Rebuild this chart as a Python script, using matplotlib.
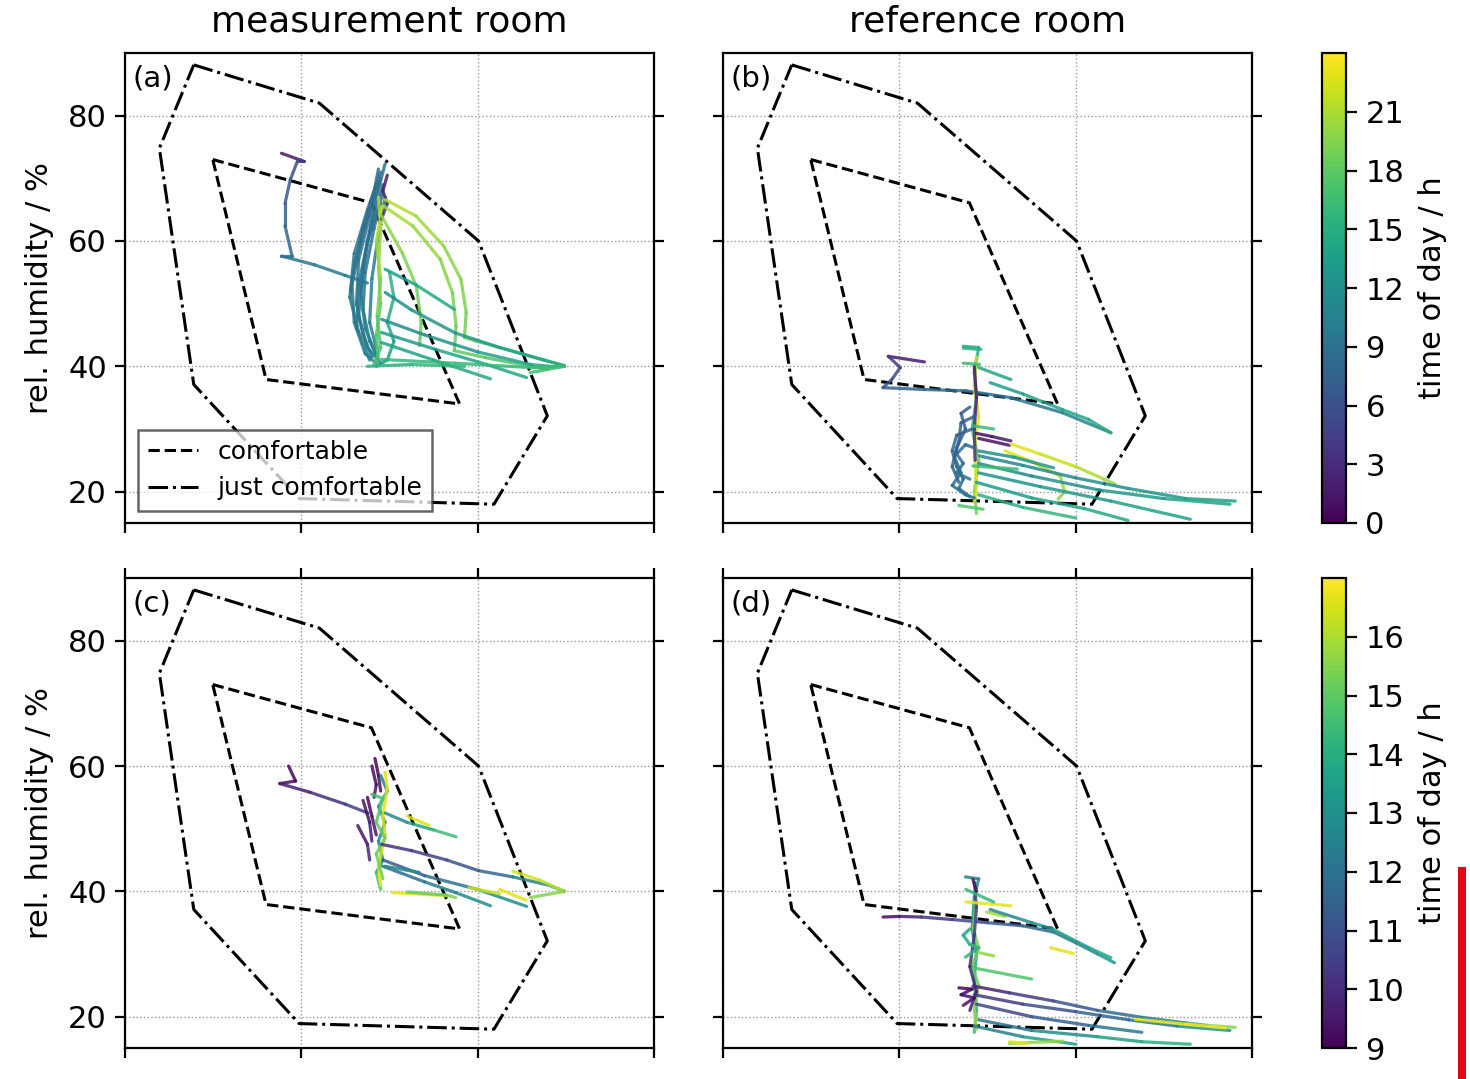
import numpy as np
import matplotlib
matplotlib.use("Agg")
import matplotlib.pyplot as plt
from matplotlib.collections import LineCollection
from matplotlib.colors import Normalize
from matplotlib.cm import ScalarMappable
from matplotlib.patches import Rectangle

plt.rcParams['font.family'] = ['DejaVu Sans']

# comfort zones (temperature / degC, rel. humidity / %)
comf_T = [17.99, 21.59, 23.59, 19.20, 17.99]
comf_RH = [73.0, 66.1, 34.0, 37.9, 73.0]
just_T = [17.56, 20.41, 24.02, 25.58, 24.37, 19.95, 17.56, 16.78, 17.56]
just_RH = [88.1, 82.0, 60.0, 32.1, 18.0, 18.9, 37.1, 74.8, 88.1]

col_titles = ['measurement room', 'reference room']
panel_labels = ['(a)', '(b)', '(c)', '(d)']
ylabel = 'rel. humidity / %'
cbar_label = 'time of day / h'
yticks = [20, 40, 60, 80]
xticks = [16, 20, 24, 28]
row_hours = [(0, 24), (9, 17)]
row_cbar_ticks = [[0, 3, 6, 9, 12, 15, 18, 21], [9, 10, 11, 12, 13, 14, 15, 16]]

# tracks: (temperature, rel. humidity, hour of day)
tracks_a = [
    [(19.55, 74.0, 1.0), (20.06, 72.7, 2.0), (19.91, 72.7, 5.0), (19.75, 69.8, 6.5), (19.63, 66.0, 7.0),
     (19.63, 62.4, 7.5), (19.79, 57.6, 8.5), (19.55, 57.6, 9.0), (20.3, 56.2, 9.5), (21.0, 54.5, 10.0),
     (21.5, 53.3, 10.3)],
    [(21.75, 71.5, 8.0), (21.6, 66.0, 8.5), (21.35, 60.0, 9.0), (21.15, 53.0, 9.5), (21.2, 47.0, 9.8),
     (21.45, 42.0, 10.2), (21.7, 40.5, 10.5)],
    [(21.8, 70.0, 8.2), (21.55, 64.0, 8.6), (21.3, 57.0, 9.2), (21.25, 50.0, 9.6), (21.4, 45.0, 10.0),
     (21.6, 41.5, 10.4)],
    [(21.85, 68.0, 8.0), (21.65, 62.0, 8.8), (21.45, 55.0, 9.3), (21.4, 49.0, 9.7), (21.55, 44.0, 10.1),
     (21.75, 41.0, 10.6)],
    [(21.9, 72.3, 9.0), (21.7, 67.0, 9.3), (21.5, 60.0, 9.6), (21.35, 52.0, 10.0), (21.45, 46.0, 10.3),
     (21.7, 42.0, 10.8)],
    [(21.8, 71.0, 8.3), (21.5, 65.0, 8.7), (21.2, 58.0, 9.1), (21.1, 51.0, 9.5), (21.3, 45.5, 9.9),
     (21.55, 41.0, 10.3)],
    [(21.85, 69.0, 8.1), (21.6, 63.0, 8.5), (21.4, 56.0, 9.0), (21.3, 48.0, 9.4), (21.5, 43.0, 9.9),
     (21.8, 40.5, 10.4)],
    [(21.9, 67.0, 9.5), (21.75, 61.0, 9.8), (21.6, 54.0, 10.1), (21.55, 47.0, 10.4), (21.7, 43.0, 10.7)],
    [(21.12, 52.0, 9.4), (21.2, 56.0, 9.0), (21.4, 62.0, 8.7), (21.7, 69.0, 8.4)],
    [(21.25, 46.0, 9.6), (21.3, 53.0, 9.2), (21.5, 60.0, 8.9), (21.8, 66.0, 8.6)],
    [(22.0, 55.0, 15.5), (22.1, 51.0, 15.0), (21.95, 47.0, 14.5), (22.1, 44.0, 14.0), (21.95, 41.0, 13.5),
     (21.7, 40.0, 13.0)],
    [(21.75, 67.0, 21.5), (21.8, 62.0, 20.5), (21.75, 56.0, 19.5), (21.8, 50.0, 18.5), (21.7, 45.0, 17.5),
     (21.75, 41.0, 17.0)],
    [(21.85, 65.5, 22.0), (21.7, 60.0, 21.0), (21.8, 54.0, 20.0), (21.72, 48.0, 18.0), (21.8, 43.0, 17.2),
     (21.65, 40.3, 16.8)],
    [(21.95, 70.5, 1.0), (21.85, 68.0, 2.0), (21.95, 66.0, 3.0), (21.82, 63.5, 4.0)],
    [(21.9, 66.6, 21.5), (22.6, 64.0, 21.0), (23.23, 59.2, 20.0), (23.62, 53.9, 19.5), (23.74, 48.6, 19.0),
     (23.7, 44.6, 18.5), (23.94, 44.1, 18.3), (25.97, 40.1, 17.0)],
    [(21.86, 65.6, 21.0), (22.53, 62.4, 20.5), (23.15, 57.1, 19.8), (23.43, 51.7, 19.2), (23.51, 46.4, 18.8),
     (23.47, 42.5, 18.3), (24.17, 41.4, 17.8), (25.58, 39.5, 17.0)],
    [(21.82, 64.0, 20.0), (22.29, 58.1, 19.5), (22.61, 52.8, 19.0), (22.72, 47.0, 18.5), (22.68, 43.3, 18.0)],
    [(21.9, 55.5, 13.0), (22.6, 53.0, 14.0), (23.47, 49.1, 15.0)],
    [(21.9, 51.8, 11.5), (22.5, 49.0, 12.0), (23.5, 45.3, 12.8), (24.5, 43.0, 13.5), (25.5, 41.0, 14.0),
     (25.97, 40.1, 14.5)],
    [(21.82, 47.5, 11.0), (22.8, 45.0, 12.0), (24.0, 42.3, 13.0), (25.2, 40.3, 14.0), (25.8, 39.9, 14.5)],
    [(21.82, 45.4, 12.5), (23.0, 42.8, 13.2), (24.2, 40.3, 14.0), (25.11, 38.2, 14.5)],
    [(21.82, 43.8, 13.5), (23.0, 41.0, 14.0), (24.29, 38.0, 14.8)],
    [(21.82, 41.1, 15.5), (23.5, 40.5, 16.0), (25.2, 39.8, 16.2), (25.97, 40.0, 16.4), (25.19, 39.0, 16.6)],
    [(21.5, 40.0, 15.0), (22.5, 40.3, 15.5), (23.7, 40.0, 16.0)],
]

tracks_b = [
    [(20.57, 40.7, 0.5), (19.75, 41.6, 3.0), (20.02, 39.8, 5.0), (19.83, 37.9, 6.0), (19.63, 36.6, 7.0),
     (20.57, 36.3, 8.0), (21.51, 36.1, 8.5), (22.53, 35.0, 9.0), (23.7, 32.6, 10.0), (24.8, 29.4, 11.0)],
    [(21.45, 43.2, 14.0), (21.8, 43.0, 14.5), (21.7, 39.0, 15.5), (21.75, 35.0, 16.5), (21.65, 30.0, 17.5),
     (21.8, 25.0, 18.5), (21.7, 20.0, 19.0), (21.75, 16.5, 19.5)],
    [(21.75, 41.5, 22.0), (21.7, 37.0, 21.5), (21.8, 32.0, 22.5), (21.7, 27.0, 23.0), (21.75, 21.0, 22.0),
     (21.7, 18.5, 21.5)],
    [(21.7, 40.0, 1.0), (21.75, 35.0, 2.0), (21.7, 30.0, 3.0), (21.72, 25.0, 4.0)],
    [(21.7, 32.0, 7.0), (21.4, 31.0, 7.3), (21.35, 28.0, 7.6), (21.25, 25.5, 8.0), (21.4, 23.0, 8.3),
     (21.2, 21.0, 8.6), (21.5, 19.5, 9.0), (21.7, 19.0, 9.3)],
    [(21.65, 30.0, 7.5), (21.3, 29.0, 7.8), (21.2, 26.5, 8.1), (21.3, 24.0, 8.4), (21.45, 22.0, 8.7),
     (21.35, 20.5, 9.0), (21.6, 19.2, 9.4)],
    [(21.7, 27.0, 8.0), (21.5, 27.5, 8.2), (21.3, 26.0, 8.5), (21.45, 24.5, 8.8), (21.3, 23.0, 9.0),
     (21.6, 22.0, 9.3)],
    [(21.6, 33.5, 6.5), (21.4, 32.5, 6.8), (21.5, 30.0, 7.1), (21.3, 27.0, 7.4), (21.2, 24.0, 7.7),
     (21.35, 21.5, 8.0)],
    [(21.75, 29.3, 0.5), (22.1, 28.8, 1.0), (22.53, 28.1, 2.0)],
    [(21.8, 28.5, 0.5), (22.5, 27.4, 1.5)],
    [(22.53, 27.6, 23.0), (23.2, 26.0, 22.5), (24.0, 24.0, 21.5), (24.64, 22.0, 20.5), (24.9, 21.2, 20.0)],
    [(22.4, 26.5, 23.0), (23.0, 24.8, 22.0), (23.65, 22.5, 21.0), (23.75, 20.0, 20.0), (23.6, 18.8, 19.5)],
    [(21.82, 25.7, 10.5), (22.8, 24.2, 11.0), (24.0, 22.2, 11.5), (25.2, 20.5, 12.0), (26.5, 18.9, 13.0),
     (27.62, 18.5, 14.0)],
    [(21.8, 24.5, 11.0), (23.0, 22.5, 11.5), (24.5, 20.3, 12.5), (26.0, 18.9, 13.5), (27.5, 18.0, 14.5)],
    [(21.8, 23.0, 12.0), (23.2, 20.8, 12.5), (24.8, 18.5, 13.2), (26.6, 15.6, 14.5)],
    [(21.75, 21.5, 13.0), (23.0, 19.0, 13.5), (24.2, 17.3, 14.0), (25.19, 15.4, 14.5)],
    [(21.8, 19.5, 15.0), (22.8, 17.5, 15.5), (24.0, 15.8, 16.0)],
    [(21.8, 26.5, 12.0), (22.6, 25.5, 12.5), (23.5, 23.8, 13.0)],
    [(21.8, 39.8, 14.0), (22.53, 37.9, 14.5)],
    [(22.06, 37.4, 13.0), (22.8, 35.6, 13.5), (23.7, 33.1, 14.0), (24.3, 31.5, 14.5), (24.8, 29.4, 15.0)],
    [(21.45, 42.9, 15.0), (21.85, 42.7, 15.5)],
    [(21.45, 40.5, 16.0), (21.82, 40.3, 16.3)],
    [(21.67, 30.5, 16.0), (22.14, 30.0, 16.5)],
    [(21.67, 24.1, 16.0), (22.68, 23.6, 16.5)],
    [(21.35, 17.8, 17.0), (21.9, 17.2, 17.5)],
]

tracks_c = [
    [(19.71, 60.0, 9.0), (19.87, 57.6, 9.2), (19.51, 57.2, 9.4), (20.2, 55.8, 9.8), (21.0, 53.9, 10.3),
     (21.51, 52.5, 10.6)],
    [(21.67, 61.2, 9.0), (21.75, 58.5, 9.2), (21.8, 56.0, 9.4)],
    [(21.6, 60.0, 9.1), (21.7, 57.0, 9.3), (21.65, 55.0, 9.5)],
    [(21.4, 54.5, 9.2), (21.55, 51.0, 9.5), (21.6, 48.0, 9.8)],
    [(21.28, 50.5, 9.2), (21.5, 47.5, 9.6), (21.55, 45.0, 9.9)],
    [(21.5, 55.0, 9.0), (21.6, 52.0, 9.3), (21.7, 49.0, 9.6)],
    [(21.8, 58.5, 12.0), (21.95, 56.0, 13.0), (21.75, 53.5, 14.0), (21.9, 51.0, 12.5), (21.75, 48.0, 13.5),
     (21.85, 45.0, 12.0), (21.7, 43.0, 14.0), (21.8, 40.3, 15.5)],
    [(21.9, 59.0, 16.5), (21.95, 56.5, 16.8), (21.85, 52.0, 16.5), (21.9, 49.0, 16.2), (21.75, 44.0, 16.6),
     (21.8, 41.0, 16.9)],
    [(21.6, 55.5, 14.5), (21.85, 54.8, 14.8), (21.7, 51.0, 15.0), (21.9, 48.5, 15.2), (21.7, 46.0, 15.5),
     (21.85, 42.0, 15.0)],
    [(21.82, 47.5, 10.0), (22.5, 46.5, 10.3), (23.3, 45.0, 10.8), (24.02, 43.3, 11.3), (24.8, 42.3, 12.0),
     (25.6, 41.0, 13.0), (25.97, 40.0, 14.5)],
    [(24.8, 43.2, 16.5), (25.4, 41.8, 16.3), (25.97, 40.0, 16.0), (25.19, 39.0, 15.0)],
    [(21.85, 45.0, 11.0), (22.8, 42.5, 11.5), (24.0, 40.3, 12.3), (25.11, 37.6, 13.5)],
    [(21.85, 44.0, 11.5), (22.8, 41.5, 12.0), (23.5, 39.8, 12.5), (24.29, 37.7, 13.0)],
    [(21.9, 44.0, 12.5), (22.68, 43.0, 13.0)],
    [(24.5, 40.3, 16.5), (25.1, 38.6, 16.8)],
    [(23.8, 40.6, 16.2), (24.5, 39.6, 16.5)],
    [(22.06, 39.8, 16.5), (23.3, 39.3, 16.8)],
    [(22.4, 39.9, 15.0), (23.3, 39.4, 15.3), (23.5, 39.0, 15.5)],
    [(21.9, 52.5, 12.5), (22.4, 51.0, 13.0), (23.0, 49.8, 14.0), (23.51, 48.7, 15.0)],
    [(22.4, 52.0, 16.5), (22.9, 50.5, 16.7)],
]

tracks_d = [
    [(19.63, 35.9, 9.0), (20.0, 36.0, 9.5), (20.5, 35.9, 10.0), (21.2, 35.5, 10.5), (22.0, 35.0, 11.0),
     (22.8, 34.5, 11.5), (23.5, 33.5, 12.0), (24.0, 31.8, 12.5), (24.5, 30.0, 13.0), (24.88, 28.6, 13.5)],
    [(21.5, 42.3, 12.5), (21.8, 42.0, 12.7), (21.7, 39.0, 13.0), (21.65, 34.0, 13.3), (21.75, 30.0, 13.6),
     (21.7, 26.0, 13.9), (21.75, 21.0, 14.2), (21.7, 17.5, 14.5)],
    [(21.75, 38.0, 16.0), (21.68, 34.0, 15.5), (21.8, 31.0, 15.2), (21.65, 28.0, 15.0), (21.8, 25.0, 15.3),
     (21.7, 21.0, 15.6), (21.75, 18.0, 15.8)],
    [(21.7, 41.5, 10.5), (21.75, 37.5, 10.8), (21.7, 33.0, 10.3), (21.6, 28.0, 10.0), (21.75, 24.0, 9.8),
     (21.6, 21.0, 9.5)],
    [(21.35, 24.6, 9.0), (21.65, 24.4, 9.2), (21.4, 23.5, 9.3), (21.7, 23.0, 9.5), (21.45, 21.8, 9.3)],
    [(21.6, 34.0, 13.5), (21.45, 33.0, 13.8), (21.6, 31.5, 14.1), (21.8, 31.0, 14.4), (21.5, 29.5, 14.0)],
    [(21.67, 24.9, 9.5), (22.5, 23.8, 10.0), (23.5, 22.5, 10.8), (24.5, 21.0, 11.5), (25.5, 19.9, 12.2),
     (26.5, 19.0, 13.0), (27.0, 18.6, 15.0), (27.62, 18.3, 16.0)],
    [(21.7, 23.5, 10.0), (22.8, 22.0, 10.5), (24.0, 20.8, 11.2), (25.2, 19.5, 11.8), (26.3, 18.5, 12.5),
     (27.5, 17.8, 13.5)],
    [(21.75, 22.0, 10.3), (23.0, 20.0, 11.0), (24.3, 18.6, 11.8), (25.5, 17.5, 12.5)],
    [(25.35, 19.6, 16.5), (26.5, 18.8, 16.8), (27.4, 18.2, 16.9)],
    [(21.8, 19.5, 11.5), (23.0, 17.8, 12.5), (24.5, 16.8, 13.2), (25.5, 16.0, 13.8), (26.6, 15.6, 14.2)],
    [(21.7, 18.5, 12.0), (22.8, 16.8, 13.0), (24.0, 15.6, 14.0)],
    [(22.5, 15.7, 15.5), (23.7, 16.1, 15.8)],
    [(22.5, 16.0, 16.5), (22.9, 15.7, 16.7)],
    [(21.82, 30.2, 15.5), (22.14, 29.7, 15.7)],
    [(21.67, 27.8, 14.5), (23.0, 26.0, 15.0)],
    [(21.98, 36.7, 15.8), (22.4, 36.0, 16.0)],
    [(21.51, 38.3, 16.5), (22.53, 37.7, 16.8)],
    [(21.51, 40.3, 14.0), (22.14, 38.3, 14.5)],
    [(22.06, 37.1, 12.5), (23.0, 35.0, 13.0), (23.47, 34.0, 13.3), (24.3, 31.0, 13.6), (24.8, 29.4, 14.0)],
    [(23.43, 31.0, 16.5), (23.94, 30.1, 16.8)],
    [(21.67, 41.9, 9.3), (21.75, 40.0, 9.5)],
]

panel_tracks = [tracks_a, tracks_b, tracks_c, tracks_d]


def draw_tracks(ax, tracks, norm):
    segs, vals = [], []
    for tr in tracks:
        tr = np.asarray(tr)
        for i in range(len(tr) - 1):
            segs.append([tr[i, :2], tr[i + 1, :2]])
            vals.append(0.5 * (tr[i, 2] + tr[i + 1, 2]))
    lc = LineCollection(segs, cmap='viridis', norm=norm, linewidths=2.3, alpha=0.85,
                        capstyle='round', joinstyle='round')
    lc.set_array(np.array(vals))
    ax.add_collection(lc)


W, H = 1470, 1079
fig = plt.figure(figsize=(W / 100, H / 100), dpi=100)

lefts = [125, 723]
width = 529
tops = [53, 578]
height = 470
cbar_x, cbar_w = 1322, 24

for r in range(2):
    norm = Normalize(*row_hours[r])
    for c in range(2):
        k = 2 * r + c
        ax = fig.add_axes([lefts[c] / W, 1 - (tops[r] + height) / H, width / W, height / H])
        l1, = ax.plot(comf_T, comf_RH, 'k--', lw=2.2, label='comfortable')
        l2, = ax.plot(just_T, just_RH, 'k-.', lw=2.2, label='just comfortable')
        draw_tracks(ax, panel_tracks[k], norm)
        ax.set_xlim(16, 28)
        ax.set_ylim(15, 90)
        ax.set_xticks(xticks)
        ax.set_yticks(yticks)
        ax.grid(True, linestyle=':', color='#999999', linewidth=1.0)
        ax.tick_params(direction='out', length=7, width=1.6, labelsize=22, pad=6,
                       right=True, top=(r == 1), labelbottom=False, labelleft=(c == 0))
        for s in ax.spines.values():
            s.set_linewidth(1.6)
        ax.text(0.015, 0.975, panel_labels[k], transform=ax.transAxes, va='top', ha='left', fontsize=21)
        if c == 0:
            ax.set_ylabel(ylabel, fontsize=22, labelpad=10)
        if k == 0:
            leg = ax.legend(handles=[l1, l2], loc='lower left', fontsize=18, fancybox=False,
                            edgecolor='#333333', framealpha=0.75)
            leg.get_frame().set_linewidth(1.8)

    cax = fig.add_axes([cbar_x / W, 1 - (tops[r] + height) / H, cbar_w / W, height / H])
    cb = fig.colorbar(ScalarMappable(norm=norm, cmap='viridis'), cax=cax, ticks=row_cbar_ticks[r])
    cb.outline.set_linewidth(1.6)
    cax.tick_params(direction='out', length=8, width=1.6, labelsize=22, pad=6)
    cb.set_label(cbar_label, fontsize=22, labelpad=10)

for c in range(2):
    fig.text((lefts[c] + width / 2) / W, 1 - 22 / H, col_titles[c], ha='center', va='center', fontsize=26)

fig.add_artist(Rectangle((1458 / W, 0), 8 / W, 212 / H, transform=fig.transFigure,
                         facecolor='#dc0a14', edgecolor='none'))

fig.savefig('out.png', dpi=100)
